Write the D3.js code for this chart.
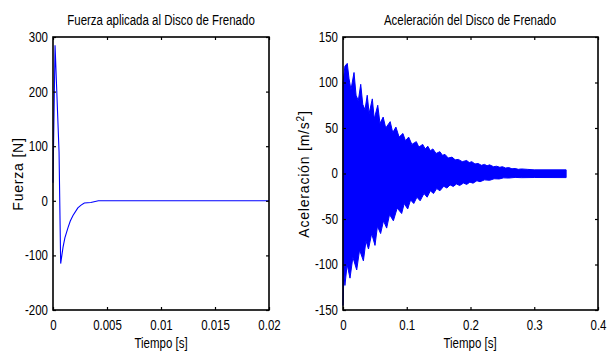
<!DOCTYPE html>
<html>
<head>
<meta charset="utf-8">
<script src="https://cdn.jsdelivr.net/npm/d3@7/dist/d3.min.js"></script>
<style>
  body { margin: 0; background: #fff; }
  svg text { font-family: "Liberation Sans", Arial, sans-serif; fill: #000; }
  .tick text { font-size: 14px; }
</style>
</head>
<body>
<svg id="chart" width="608" height="356"></svg>
<script>
// force applied to the brake disc, [t (s), F (N)]
const forcePoints = [
    [0, 33], [0.00019, 285], [0.00056, 90], [0.00071, -115], [0.00093, -85],
    [0.0011, -68], [0.00139, -49], [0.0016, -37], [0.00185, -27], [0.0023, -13],
    [0.0026, -8], [0.0029, -4], [0.0035, -3], [0.0042, 0], [0.02, 0]
];

// acceleration of the disc: upper / lower envelope, [t (s), a (m/s2)]
const accUpper = [
    [0, 100], [0.003, 118], [0.0067, 121], [0.0095, 104], [0.0125, 92],
    [0.0173, 111], [0.0205, 86], [0.024, 80], [0.0278, 98], [0.031, 76],
    [0.0345, 70], [0.038, 86], [0.041, 66], [0.046, 82], [0.049, 60],
    [0.0545, 75], [0.058, 55], [0.063, 62], [0.067, 50], [0.074, 57],
    [0.078, 45], [0.083, 51], [0.088, 40], [0.094, 44], [0.098, 36],
    [0.103, 40], [0.108, 32], [0.115, 35], [0.119, 29], [0.125, 32],
    [0.129, 27], [0.133, 30], [0.137, 25], [0.141, 27], [0.146, 22],
    [0.152, 24], [0.156, 20], [0.160, 21], [0.165, 17], [0.171, 18],
    [0.176, 15], [0.181, 15.5], [0.187, 13], [0.194, 14.3], [0.198, 12],
    [0.202, 13], [0.207, 10.5], [0.212, 11], [0.217, 9], [0.222, 10],
    [0.226, 8.5], [0.230, 9.5], [0.236, 7.5], [0.241, 8], [0.246, 6.8],
    [0.25, 7.5], [0.255, 6], [0.26, 6.5], [0.265, 5.2], [0.27, 5.5],
    [0.275, 4.6], [0.28, 5], [0.29, 4.5], [0.30, 4], [0.35, 4]
];
const accLower = [
    [0, -145], [0.0015, -110], [0.003, -123], [0.0065, -100], [0.011, -115],
    [0.0155, -92], [0.0215, -106], [0.026, -84], [0.032, -96], [0.036, -74],
    [0.040, -83], [0.045, -66], [0.0502, -79], [0.054, -58], [0.059, -66],
    [0.0635, -52], [0.0685, -60], [0.073, -45], [0.079, -52], [0.085, -38],
    [0.092, -44], [0.096, -33], [0.1015, -39], [0.106, -29], [0.111, -33],
    [0.116, -26], [0.121, -30], [0.127, -22], [0.132, -26], [0.137, -19],
    [0.142, -22], [0.147, -16.5], [0.152, -19], [0.158, -14], [0.163, -16],
    [0.168, -12.5], [0.173, -14.3], [0.178, -11.5], [0.183, -13.2], [0.189, -10.5],
    [0.194, -12], [0.199, -9.5], [0.204, -10.6], [0.21, -8], [0.215, -9],
    [0.222, -7], [0.23, -7.5], [0.237, -5.8], [0.245, -6], [0.252, -4.8],
    [0.26, -5], [0.27, -4.3], [0.28, -4.6], [0.30, -4.4], [0.35, -4.5]
];

const forceXTicks = [0, 0.005, 0.01, 0.015, 0.02];
const forceYTicks = [-200, -100, 0, 100, 200, 300];
const accXTicks = [0, 0.1, 0.2, 0.3, 0.4];
const accYTicks = [-150, -100, -50, 0, 50, 100, 150];

const svg = d3.select("#chart");
const blue = "#0000ff";
const squeeze = 0.82; // matlab text in the picture is narrower than Liberation Sans
const fmt = d => String(+d.toFixed(6));

// draws the matlab-style box: labels left/bottom, ticks inward on all four sides
function drawAxes(g, x, y, xTicks, yTicks) {
    const [x0, x1] = x.range();
    const [y0, y1] = y.range();

    g.append("g").attr("transform", `translate(0,${y0})`)
        .call(d3.axisBottom(x).tickValues(xTicks).tickFormat(fmt).tickSizeInner(-3).tickSizeOuter(0).tickPadding(10))
        .selectAll(".tick text").attr("transform", `scale(${squeeze},1)`);
    g.append("g").attr("transform", `translate(0,${y1})`)
        .call(d3.axisTop(x).tickValues(xTicks).tickFormat("").tickSizeInner(-3).tickSizeOuter(0));
    g.append("g").attr("transform", `translate(${x0},0)`)
        .call(d3.axisLeft(y).tickValues(yTicks).tickFormat(fmt).tickSizeInner(-3).tickSizeOuter(0))
        .selectAll(".tick text").attr("x", -5 / squeeze).attr("transform", `scale(${squeeze},1)`);
    g.append("g").attr("transform", `translate(${x1},0)`)
        .call(d3.axisRight(y).tickValues(yTicks).tickFormat("").tickSizeInner(-3).tickSizeOuter(0));

    g.selectAll(".domain").remove();
    g.selectAll(".tick line").attr("stroke", "#000").attr("stroke-width", 1.2);
    g.selectAll(".tick text").attr("fill", "#000");

    g.append("rect")
        .attr("x", x0).attr("y", y1)
        .attr("width", x1 - x0).attr("height", y0 - y1)
        .attr("fill", "none").attr("stroke", "#000").attr("stroke-width", 1.6);
}

function titles(g, cx, title) {
    g.append("text").attr("transform", `translate(${cx},25) scale(${squeeze},1)`)
        .attr("text-anchor", "middle").style("font-size", "14px").text(title);
    g.append("text").attr("transform", `translate(${cx},348) scale(${squeeze},1)`)
        .attr("text-anchor", "middle").style("font-size", "14px").text("Tiempo [s]");
}

// ---- left: force
const xF = d3.scaleLinear().domain([0, 0.02]).range([53, 269]);
const yF = d3.scaleLinear().domain([-200, 300]).range([310, 37]);
const gF = svg.append("g");

gF.append("path")
    .datum(forcePoints)
    .attr("fill", "none")
    .attr("stroke", blue)
    .attr("stroke-width", 1.1)
    .attr("d", d3.line().x(d => xF(d[0])).y(d => yF(d[1])));

drawAxes(gF, xF, yF, forceXTicks, forceYTicks);
titles(gF, 161, "Fuerza aplicada al Disco de Frenado");
gF.append("text")
    .attr("transform", "translate(23,174) rotate(-90)")
    .attr("text-anchor", "middle")
    .style("font-size", "14px")
    .style("letter-spacing", "0.8px")
    .text("Fuerza [N]");

// ---- right: acceleration
const xA = d3.scaleLinear().domain([0, 0.4]).range([343, 598]);
const yA = d3.scaleLinear().domain([-150, 150]).range([310, 37]);
const gA = svg.append("g");

const band = accUpper.concat(accLower.slice().reverse());
gA.append("path")
    .attr("fill", blue)
    .attr("stroke", blue)
    .attr("stroke-width", 1)
    .attr("stroke-linejoin", "round")
    .attr("d", d3.line().x(d => xA(d[0])).y(d => yA(d[1]))(band) + "Z");

drawAxes(gA, xA, yA, accXTicks, accYTicks);
titles(gA, 470, "Aceleración del Disco de Frenado");
const yl = gA.append("text")
    .attr("transform", "translate(309,174) rotate(-90)")
    .attr("text-anchor", "middle")
    .style("font-size", "14px")
    .style("letter-spacing", "0.8px");
yl.append("tspan").text("Aceleración [m/s");
yl.append("tspan").attr("dy", -5).style("font-size", "10px").text("2");
yl.append("tspan").attr("dy", 5).text("]");
</script>
</body>
</html>
